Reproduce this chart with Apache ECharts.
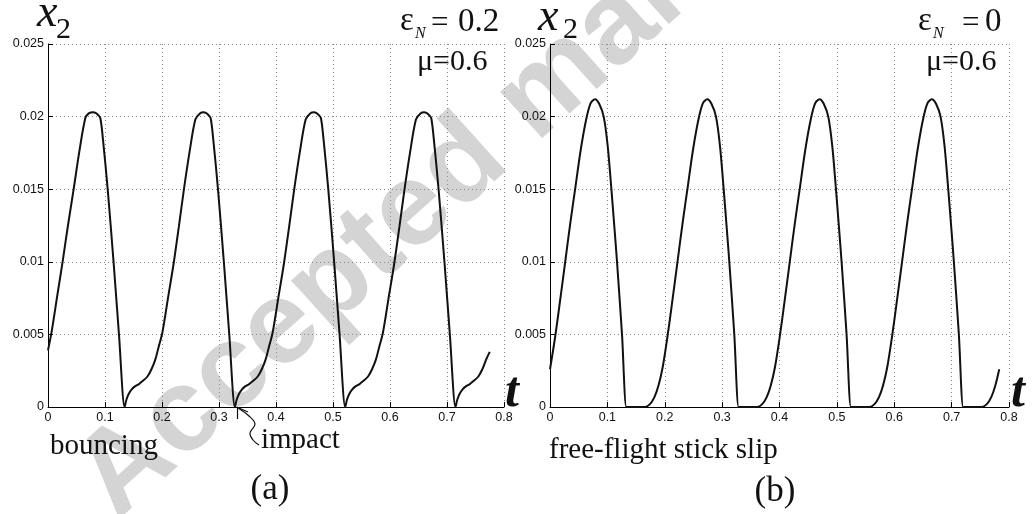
<!DOCTYPE html>
<html><head><meta charset="utf-8">
<script src="https://cdn.jsdelivr.net/npm/echarts@6/dist/echarts.min.js"></script>
<style>html,body{margin:0;padding:0;background:#fff}#c{width:1036px;height:514px}</style>
</head><body><div id="c"></div>
<script>
// ---- data ----
const xTickLabels = ['0','0.1','0.2','0.3','0.4','0.5','0.6','0.7','0.8'];
const yTickLabels = ['0','0.005','0.01','0.015','0.02','0.025'];

// (a) bouncing, eps_N = 0.2
const leftT = [0,0.006,0.016,0.026,0.035,0.045,0.055,0.0655,0.0715,0.0795,
  0.0835,0.0875,0.0918,0.0965,0.1047,0.115,0.1245,0.1345,
  0.1375,0.1415,0.1465,0.1525,0.1595,0.1665,0.1745,0.1815,0.1885,0.1945,0.2005,0.2105,0.2205,0.2295,0.2385,0.2485,0.2585,0.2665,0.273,
  0.277,0.281,0.2853,0.29,0.2982,0.3085,0.318,0.328,
  0.331,0.335,0.340,0.346,0.353,0.360,0.368,0.375,0.382,0.388,0.394,0.404,0.414,0.423,0.432,0.442,0.452,0.460,0.4665,
  0.4705,0.4745,0.4788,0.4835,0.4917,0.502,0.5115,0.5215,
  0.5245,0.5285,0.5335,0.5395,0.5465,0.5535,0.5615,0.5685,0.5755,0.5815,0.5875,0.5975,0.6075,0.6165,0.6255,0.6355,0.6455,0.6535,0.66,
  0.664,0.668,0.6723,0.677,0.6852,0.6955,0.705,0.715,
  0.718,0.722,0.727,0.733,0.740,0.747,0.755,0.762,0.769,0.775];
const leftX = [0.0039,0.0051,0.0076,0.0101,0.0125,0.0150,0.0176,0.0199,0.02022,0.0203,
  0.02025,0.02013,0.0199,0.0184,0.0150,0.0100,0.0050,0,
  0.0005,0.0009,0.0012,0.00142,0.00158,0.0018,0.0021,0.0026,0.0033,0.0042,0.0051,0.0075,0.0099,0.0124,0.0150,0.0176,0.0198,0.02022,0.0203,
  0.02025,0.02013,0.0199,0.0184,0.0150,0.0100,0.0050,0,
  0.0005,0.0009,0.0012,0.00142,0.00158,0.0018,0.0021,0.0026,0.0033,0.0042,0.0051,0.0075,0.0099,0.0124,0.0150,0.0176,0.0198,0.02022,0.0203,
  0.02025,0.02013,0.0199,0.0184,0.0150,0.0100,0.0050,0,
  0.0005,0.0009,0.0012,0.00142,0.00158,0.0018,0.0021,0.0026,0.0033,0.0042,0.0051,0.0075,0.0099,0.0124,0.0150,0.0176,0.0198,0.02022,0.0203,
  0.02025,0.02013,0.0199,0.0184,0.0150,0.0100,0.0050,0,
  0.0005,0.0009,0.0012,0.00142,0.00158,0.0018,0.0021,0.0026,0.0033,0.0038];

// (b) free-flight stick slip, eps_N = 0
const rightT = [0,0.0085,0.0165,0.0265,0.0355,0.0445,0.0535,0.0625,0.0705,0.0785,
  0.0855,0.0936,0.1005,0.107,0.112,0.1168,0.1255,0.133,0.136,
  0.1652,0.1742,0.1822,0.1892,0.1962,0.2042,0.2122,0.2222,0.2312,0.2402,0.2492,0.2582,0.2662,0.2742,
  0.2812,0.2893,0.2962,0.3027,0.3077,0.3125,0.3212,0.3287,0.3317,
  0.3609,0.3699,0.3779,0.3849,0.3919,0.3999,0.4079,0.4179,0.4269,0.4359,0.4449,0.4539,0.4619,0.4699,
  0.4769,0.485,0.4919,0.4984,0.5034,0.5082,0.5169,0.5244,0.5274,
  0.5566,0.5656,0.5736,0.5806,0.5876,0.5956,0.6036,0.6136,0.6226,0.6316,0.6406,0.6496,0.6576,0.6656,
  0.6726,0.6807,0.6876,0.6941,0.6991,0.7039,0.7126,0.7201,0.7231,
  0.7523,0.7613,0.7693,0.7763,0.783];
const rightX = [0.0026,0.0047,0.0070,0.0100,0.0127,0.0152,0.0177,0.0197,0.0209,0.0212,
  0.0209,0.0200,0.0180,0.0150,0.0125,0.0100,0.0050,0,0,
  0,0.0002,0.0007,0.0015,0.0027,0.0047,0.0070,0.0100,0.0127,0.0152,0.0177,0.0197,0.0209,0.0212,
  0.0209,0.0200,0.0180,0.0150,0.0125,0.0100,0.0050,0,0,
  0,0.0002,0.0007,0.0015,0.0027,0.0047,0.0070,0.0100,0.0127,0.0152,0.0177,0.0197,0.0209,0.0212,
  0.0209,0.0200,0.0180,0.0150,0.0125,0.0100,0.0050,0,0,
  0,0.0002,0.0007,0.0015,0.0027,0.0047,0.0070,0.0100,0.0127,0.0152,0.0177,0.0197,0.0209,0.0212,
  0.0209,0.0200,0.0180,0.0150,0.0125,0.0100,0.0050,0,0,
  0,0.0002,0.0007,0.0015,0.0026];

// ---- chart ----
const zip = (a, b) => a.map((v, i) => [v, b[i]]);
const chart = echarts.init(document.getElementById('c'), null, {renderer: 'canvas'});
const SANS = '"Liberation Sans", Arial, sans-serif';
const SERIF = '"Liberation Serif", "Times New Roman", serif';

function xAxisCfg(gi) {
  return {
    type: 'value', gridIndex: gi, min: 0, max: 0.8, interval: 0.1,
    axisLine: {show: true, onZero: false, lineStyle: {color: '#000', width: 1}},
    axisTick: {show: true, inside: true, length: 5, lineStyle: {color: '#000'}},
    axisLabel: {margin: 4, fontSize: 12.5, fontFamily: SANS, color: '#111',
      formatter: v => xTickLabels[Math.round(v / 0.1)]},
    splitLine: {show: true, lineStyle: {color: '#8a8a8a', type: [1, 3], width: 1}}
  };
}
function yAxisCfg(gi) {
  return {
    type: 'value', gridIndex: gi, min: 0, max: 0.025, interval: 0.005,
    axisLine: {show: true, onZero: false, lineStyle: {color: '#000', width: 1}},
    axisTick: {show: true, inside: true, length: 5, lineStyle: {color: '#000'}},
    axisLabel: {margin: 4, fontSize: 12.5, fontFamily: SANS, color: '#111',
      formatter: v => yTickLabels[Math.round(v / 0.005)]},
    splitLine: {show: true, lineStyle: {color: '#8a8a8a', type: [1, 3], width: 1}}
  };
}
function txt(text, x, y, font, align) {
  return {type: 'text', z: 10, style: {text: text, x: x, y: y, font: font, fill: '#111',
    align: align || 'left', verticalAlign: 'bottom'}};
}
const S = (sz, st) => (st || '') + ' ' + sz + 'px ' + SERIF;

const option = {
  animation: false,
  backgroundColor: '#fff',
  grid: [
    {left: 48, top: 44, width: 456, height: 363},
    {left: 550, top: 44, width: 459, height: 363}
  ],
  xAxis: [xAxisCfg(0), xAxisCfg(1)],
  yAxis: [yAxisCfg(0), yAxisCfg(1)],
  series: [
    {type: 'line', xAxisIndex: 0, yAxisIndex: 0, data: zip(leftT, leftX), showSymbol: false, smooth: 0.3,
      lineStyle: {color: '#111', width: 2}, z: 5},
    {type: 'line', xAxisIndex: 1, yAxisIndex: 1, data: zip(rightT, rightX), showSymbol: false, smooth: 0.3,
      lineStyle: {color: '#111', width: 2}, z: 5}
  ],
  graphic: [
    // watermark
    {type: 'text', z: -5, x: 118, y: 522, rotation: 42 * Math.PI / 180,
      style: {text: 'Accepted manuscript', x: 0, y: 25, font: 'bold 118px ' + SANS, fill: '#d4d4d4',
        align: 'left', verticalAlign: 'bottom'}},
    // axis titles
    txt('x', 37, 37, S(46, 'italic')),
    txt('2', 56, 45, S(30)),
    txt('x', 538, 41, S(46, 'italic')),
    txt('2', 563, 45, S(30)),
    txt('t', 505, 418, S(50, 'italic bold')),
    txt('t', 1011, 418, S(50, 'italic bold')),
    // parameters
    txt('\u03b5', 400, 38, S(33)),
    txt('N', 415, 42, S(16, 'italic')),
    txt('=', 431, 39, S(31)),
    txt('0.2', 458, 39, S(33)),
    txt('\u03bc=0.6', 417, 77, S(30)),
    txt('\u03b5', 918, 38, S(33)),
    txt('N', 933, 42, S(16, 'italic')),
    txt('=', 962, 39, S(31)),
    txt('0', 985, 39, S(33)),
    txt('\u03bc=0.6', 926, 77, S(30)),
    // captions
    txt('bouncing', 50, 461, S(29)),
    txt('impact', 261, 455, S(29)),
    txt('free-flight stick slip', 549, 465, S(29)),
    txt('(a)', 270, 507, S(35), 'center'),
    txt('(b)', 775, 509, S(35), 'center'),
    // impact arrow
    {type: 'polyline', z: 10, shape: {points: [[248, 412], [237.5, 407.5], [237.5, 419]]},
      style: {stroke: '#111', lineWidth: 1.2, fill: null}},
    {type: 'polyline', z: 10, shape: {points: [[238, 408], [249, 416], [255, 424], [250, 433], [253, 440], [259, 445]], smooth: 0.4},
      style: {stroke: '#111', lineWidth: 1.2, fill: null}}
  ]
};
chart.setOption(option);
</script></body></html>
